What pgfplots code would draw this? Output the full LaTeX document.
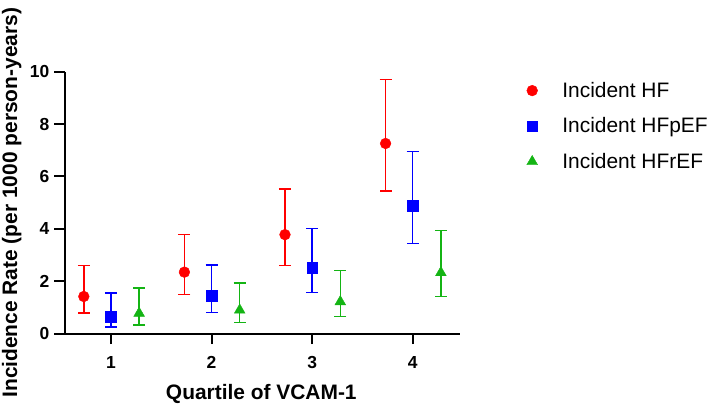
\documentclass[border=0pt]{standalone}
\usepackage{fontspec}
\setmainfont{Liberation Sans}
\usepackage{pgfplots}
\usepackage{pgfplotstable}
\pgfplotsset{compat=1.18}

\definecolor{hfred}{RGB}{255,0,0}
\definecolor{hfblue}{RGB}{0,0,255}
\definecolor{hfgreen}{RGB}{20,180,20}

% quartile, rate, upper CI, lower CI
\pgfplotstableread{
q    y     hi    lo
1    1.42  2.60  0.79
2    2.35  3.78  1.49
3    3.78  5.53  2.60
4    7.26  9.71  5.45
}\hftable
\pgfplotstableread{
q    y     hi    lo
1    0.65  1.56  0.25
2    1.45  2.62  0.80
3    2.51  4.01  1.58
4    4.89  6.96  3.44
}\hfpeftable
\pgfplotstableread{
q    y     hi    lo
1    0.78  1.74  0.33
2    0.90  1.93  0.42
3    1.22  2.42  0.65
4    2.33  3.94  1.42
}\hfreftable

\begin{document}
\begin{tikzpicture}
\path[use as bounding box] (0,0) rectangle (709bp,404bp);
\begin{axis}[
    at={(65bp,70.3bp)}, anchor=south west,
    scale only axis,
    width=395bp, height=262bp,
    xmin=0.543, xmax=4.47,
    ymin=0, ymax=10,
    axis x line*=bottom, axis y line*=left,
    axis line style={line width=2bp, -},
    xtick={1,2,3,4}, ytick={0,2,4,6,8,10},
    minor tick num=0,
    tick align=outside,
    major tick length=10.5bp,
    tick style={line width=2bp, black},
    /pgf/number format/assume math mode=true,
    ticklabel style={font=\bfseries\fontsize{17.5}{19}\selectfont, inner sep=0pt},
    xticklabel style={anchor=north, yshift=-12bp},
    yticklabel style={anchor=east, xshift=-5bp},
    xlabel={Quartile of VCAM-1},
    ylabel={Incidence Rate (per 1000 person-years)},
    label style={font=\bfseries\fontsize{21}{24}\selectfont},
    xlabel style={at={(axis description cs:0.497,-0.2504)}, anchor=base},
    ylabel style={at={(axis description cs:-0.1215,0.5)}, anchor=base},
    clip=false,
    legend style={
        at={(axis description cs:1.1671,0.9595)}, anchor=north west,
        draw=none, fill=none, inner sep=0pt, outer sep=0pt,
        font=\fontsize{21}{24}\selectfont,
        row sep=16.5bp,
        nodes={inner sep=0pt, text height=15bp, text depth=4bp},
    },
    legend cell align=left,
    legend image code/.code={
        \path (0bp,0bp) (36bp,0bp);
        \draw[#1] plot coordinates {(6bp,1.2bp)};
    },
    every axis plot/.append style={
        only marks,
        /pgfplots/error bars/y dir=both,
        /pgfplots/error bars/y explicit,
        /pgfplots/error bars/error bar style={line width=1.5bp},
        /pgfplots/error bars/error mark options={rotate=90, line width=1.5bp, mark size=6bp},
    },
]
\addplot[color=hfred, mark=*, mark size=5.4bp]
    table[x expr=\thisrow{q}-0.27, y=y,
          y error plus expr=\thisrow{hi}-\thisrow{y},
          y error minus expr=\thisrow{y}-\thisrow{lo}] {\hftable};
\addlegendentry{Incident HF}
\addplot[color=hfblue, mark=square*, mark size=5.4bp]
    table[x=q, y=y,
          y error plus expr=\thisrow{hi}-\thisrow{y},
          y error minus expr=\thisrow{y}-\thisrow{lo}] {\hfpeftable};
\addlegendentry{Incident HFpEF}
\addplot[color=hfgreen, mark=triangle*, mark size=6.2bp]
    table[x expr=\thisrow{q}+0.28, y=y,
          y error plus expr=\thisrow{hi}-\thisrow{y},
          y error minus expr=\thisrow{y}-\thisrow{lo}] {\hfreftable};
\addlegendentry{Incident HFrEF}
\end{axis}
\end{tikzpicture}
\end{document}
